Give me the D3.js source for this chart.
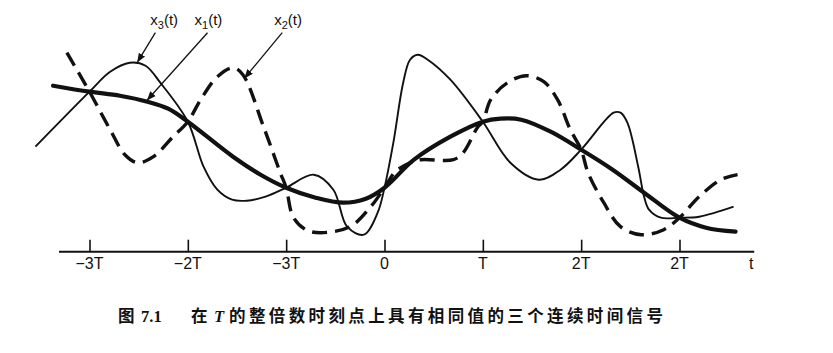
<!DOCTYPE html>
<html>
<head>
<meta charset="utf-8">
<script src="https://cdn.jsdelivr.net/npm/d3@7/dist/d3.min.js"></script>
<style>
  html, body { margin: 0; padding: 0; background: #fff; }
  svg { display: block; }
</style>
</head>
<body>
<svg id="chart" width="833" height="353"></svg>
<script>
// sample times in units of T, amplitude in arbitrary units
const x1Points = [
  [-3.37, 1.66], [-3, 1.60], [-2.69, 1.56], [-2.41, 1.50], [-2.2, 1.43], [-2, 1.30], [-1.54, 0.95],
  [-1.26, 0.77], [-1, 0.64], [-0.70, 0.54], [-0.42, 0.49], [-0.19, 0.53], [0, 0.64],
  [0.30, 0.92], [0.67, 1.15], [1, 1.30], [1.18, 1.33], [1.39, 1.32], [1.69, 1.20],
  [2, 1.02], [2.32, 0.82], [2.64, 0.59], [3, 0.34], [3.27, 0.24], [3.57, 0.20]
];
const x2Points = [
  [-3.23, 1.99], [-3, 1.60], [-2.79, 1.22], [-2.64, 0.97], [-2.51, 0.89], [-2.35, 0.95],
  [-2.15, 1.15], [-2, 1.30], [-1.87, 1.52], [-1.70, 1.75], [-1.54, 1.84], [-1.44, 1.77],
  [-1.23, 1.25], [-1.06, 0.79], [-1, 0.64], [-0.93, 0.35], [-0.80, 0.22], [-0.65, 0.19],
  [-0.35, 0.25], [-0.14, 0.45], [0, 0.64], [0.11, 0.80], [0.26, 0.89], [0.37, 0.92],
  [0.70, 0.92], [0.80, 0.99], [0.95, 1.25], [1, 1.30], [1.08, 1.52], [1.25, 1.69],
  [1.44, 1.76], [1.62, 1.70], [1.76, 1.52], [1.89, 1.22], [2, 1.02], [2.07, 0.79],
  [2.23, 0.49], [2.40, 0.25], [2.61, 0.17], [2.84, 0.22], [3, 0.34], [3.20, 0.55],
  [3.42, 0.72], [3.59, 0.77]
];
const x3Points = [
  [-3.55, 1.05], [-3, 1.60], [-2.79, 1.80], [-2.59, 1.89], [-2.43, 1.86], [-2.28, 1.69],
  [-2, 1.30], [-1.84, 0.85], [-1.70, 0.62], [-1.55, 0.52], [-1.40, 0.51], [-1.21, 0.55],
  [-1, 0.64], [-0.72, 0.77], [-0.52, 0.62], [-0.38, 0.25], [-0.21, 0.17], [-0.07, 0.39],
  [0, 0.64], [0.09, 1.09], [0.19, 1.69], [0.26, 1.92], [0.34, 1.97], [0.44, 1.92],
  [0.67, 1.72], [1, 1.30], [1.28, 0.89], [1.57, 0.72], [1.79, 0.82], [2, 1.02],
  [2.33, 1.39], [2.40, 1.39], [2.47, 1.29], [2.58, 0.85], [2.64, 0.55], [2.69, 0.42],
  [2.81, 0.34], [3, 0.34], [3.20, 0.35], [3.55, 0.45]
];

const tickValues = [-3, -2, -1, 0, 1, 2, 3];
// labels as printed in the figure (kept as-is)
const tickLabels = ['\u22123T', '\u22122T', '\u22123T', '0', 'T', '2T', '2T'];
const axisExtent = [-3.31, 3.76];

const curveNames = ['x3', 'x1', 'x2'];
const labelAt = [[-2.24, 2.31], [-1.79, 2.31], [-0.98, 2.31]];
const leaderFrom = [[-2.33, 2.19], [-1.80, 2.19], [-1.04, 2.19]];
const leaderTo = [[-2.51, 1.90], [-2.41, 1.52], [-1.42, 1.74]];

(function () {
  'use strict';
  const svg = d3.select('#chart');
  const x = d3.scaleLinear().domain([-3, 3]).range([89.5, 679.5]);
  const y = d3.scaleLinear().domain([0, 2.5]).range([251.7, 1.7]);

  const line = d3.line()
    .x(function (d) { return x(d[0]); })
    .y(function (d) { return y(d[1]); })
    .curve(d3.curveCatmullRom.alpha(0.5));

  // time axis
  const axisG = svg.append('g').attr('transform', 'translate(0,' + y(0) + ')');
  axisG.append('line')
    .attr('x1', x(axisExtent[0])).attr('x2', x(axisExtent[1]))
    .attr('stroke', '#111').attr('stroke-width', 2);
  const axis = d3.axisTop(x).tickValues(tickValues).tickSize(12).tickFormat('');
  const ticksG = axisG.append('g').call(axis);
  ticksG.select('.domain').remove();
  ticksG.selectAll('line').attr('stroke', '#111').attr('stroke-width', 1.6);

  axisG.selectAll('text.tl')
    .data(tickValues)
    .join('text')
    .attr('class', 'tl')
    .attr('x', function (d) { return x(d); })
    .attr('y', 17)
    .attr('text-anchor', 'middle')
    .style('font-family', '"Liberation Sans", Arial, sans-serif')
    .style('font-size', '16px')
    .attr('fill', '#111')
    .text(function (d, i) { return tickLabels[i]; });
  axisG.append('text')
    .attr('x', x(3.73)).attr('y', 17)
    .attr('text-anchor', 'middle')
    .style('font-family', '"Liberation Sans", Arial, sans-serif')
    .style('font-size', '16px')
    .attr('fill', '#111')
    .text('t');

  // curves
  svg.append('path').datum(x3Points)
    .attr('d', line).attr('fill', 'none')
    .attr('stroke', '#111').attr('stroke-width', 1.9);
  svg.append('path').datum(x2Points)
    .attr('d', line).attr('fill', 'none')
    .attr('stroke', '#111').attr('stroke-width', 3.4)
    .attr('stroke-dasharray', '15 8');
  svg.append('path').datum(x1Points)
    .attr('d', line).attr('fill', 'none')
    .attr('stroke', '#111').attr('stroke-width', 4.2)
    .attr('stroke-linecap', 'round');

  // labels with leader arrows
  svg.append('defs').append('marker')
    .attr('id', 'arr').attr('viewBox', '0 0 10 10')
    .attr('refX', 9).attr('refY', 5)
    .attr('markerWidth', 7).attr('markerHeight', 7)
    .attr('orient', 'auto')
    .append('path').attr('d', 'M0,1 L10,5 L0,9 Z').attr('fill', '#111');

  curveNames.forEach(function (name, i) {
    svg.append('line')
      .attr('x1', x(leaderFrom[i][0])).attr('y1', y(leaderFrom[i][1]))
      .attr('x2', x(leaderTo[i][0])).attr('y2', y(leaderTo[i][1]))
      .attr('stroke', '#111').attr('stroke-width', 1.3)
      .attr('marker-end', 'url(#arr)');
    const t = svg.append('text')
      .attr('x', x(labelAt[i][0])).attr('y', y(labelAt[i][1]) + 4)
      .attr('text-anchor', 'middle')
      .style('font-family', '"Liberation Sans", Arial, sans-serif')
      .style('font-size', '15px')
      .attr('fill', '#111');
    t.append('tspan').text('x');
    t.append('tspan').attr('dy', 4).style('font-size', '11px').text(name.slice(1));
    t.append('tspan').attr('dy', -4).text('(t)');
  });

  // caption
  const cap = svg.append('text')
    .attr('y', 322)
    .style('font-family', '"Noto Sans CJK SC", sans-serif')
    .style('font-weight', 700)
    .style('font-size', '16.5px')
    .attr('fill', '#111');
  cap.append('tspan').attr('x', 118).text('图');
  cap.append('tspan').attr('x', 141).style('font-family', '"Liberation Serif", serif').text('7.1');
  cap.append('tspan').attr('x', 191).text('在');
  cap.append('tspan').attr('x', 214).style('font-family', '"Liberation Serif", serif')
    .style('font-style', 'italic').text('T');
  cap.append('tspan').attr('x', 229).attr('textLength', 434)
    .text('的整倍数时刻点上具有相同值的三个连续时间信号');
})();
</script>
</body>
</html>
